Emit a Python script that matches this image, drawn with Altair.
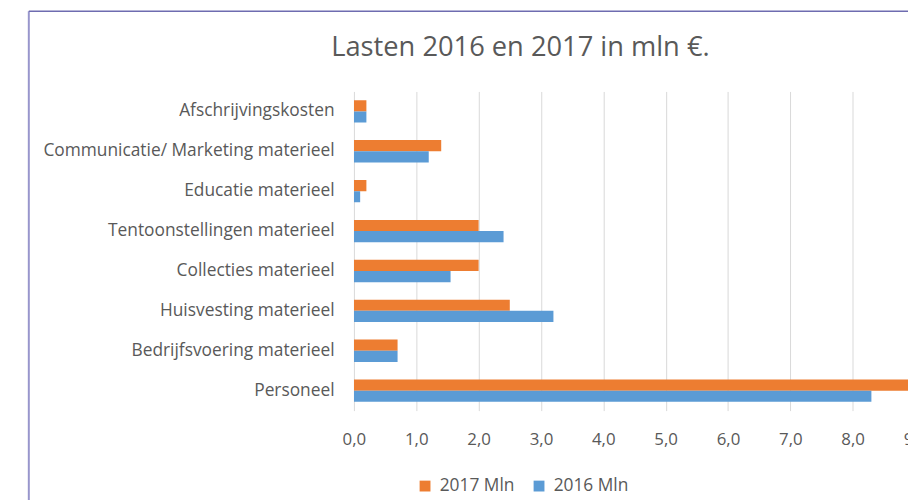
import altair as alt
import pandas as pd

categories = [
    "Afschrijvingskosten",
    "Communicatie/ Marketing materieel",
    "Educatie materieel",
    "Tentoonstellingen materieel",
    "Collecties materieel",
    "Huisvesting materieel",
    "Bedrijfsvoering materieel",
    "Personeel",
]
values_2017 = [0.2, 1.4, 0.2, 2.0, 2.0, 2.5, 0.7, 9.3]
values_2016 = [0.2, 1.2, 0.1, 2.4, 1.55, 3.2, 0.7, 8.3]
series = ["2017 Mln", "2016 Mln"]
colors = ["#ED7D31", "#5B9BD5"]
x_ticks = [0, 1, 2, 3, 4, 5, 6, 7, 8, 9, 10]
title_text = "Lasten 2016 en 2017 in mln €."

rows = []
for c, v17, v16 in zip(categories, values_2017, values_2016):
    rows.append({"cat": c, "series": series[0], "val": v17})
    rows.append({"cat": c, "series": series[1], "val": v16})
df = pd.DataFrame(rows)

FONT = "Open Sans"
W, H = 559, 322
GRAY = "#595959"

bars = alt.Chart(df).mark_bar(clip=True).encode(
    y=alt.Y("cat:N", sort=categories, title=None,
            scale=alt.Scale(paddingInner=0.44, paddingOuter=0.22),
            axis=alt.Axis(ticks=False, domain=False, labelPadding=20,
                          labelFontSize=17.5, labelColor=GRAY, labelFont=FONT,
                          labelLimit=400)),
    x=alt.X("val:Q", title=None,
            scale=alt.Scale(domain=[0, 10], range=[0, 629], nice=False),
            axis=alt.Axis(values=x_ticks, ticks=False, domain=False,
                          labelFlush=False,
                          labelExpr="replace(format(datum.value, '.1f'), '.', ',')",
                          labelFontSize=17, labelColor=GRAY, labelFont=FONT,
                          labelPadding=21, gridColor="#D9D9D9", gridWidth=1)),
    yOffset=alt.YOffset("series:N", sort=series),
    color=alt.Color("series:N", sort=series,
                    scale=alt.Scale(domain=series, range=colors),
                    legend=alt.Legend(orient="none", legendX=63, legendY=389,
                                      direction="horizontal", title=None,
                                      symbolType="square", symbolSize=120,
                                      symbolStrokeWidth=0, labelOffset=6,
                                      labelFontSize=17.5, labelColor=GRAY,
                                      labelFont=FONT, columnPadding=16)),
)

title = alt.Chart(pd.DataFrame({"t": [title_text]})).mark_text(
    font=FONT, fontSize=27.5, color=GRAY, align="center", baseline="middle").encode(
    text="t:N", x=alt.value(168), y=alt.value(-44))

border_left = alt.Chart(pd.DataFrame({"a": [0]})).mark_rule(
    color="#9896CC", strokeWidth=2).encode(
    x=alt.value(-328), y=alt.value(-81), y2=alt.value(420))
border_top = alt.Chart(pd.DataFrame({"a": [0]})).mark_rule(
    color="#6E6CB0", strokeWidth=1.5).encode(
    x=alt.value(-328), x2=alt.value(700), y=alt.value(-81))

chart = alt.layer(bars, title, border_left, border_top).properties(
    width=W, height=H,
    autosize=alt.AutoSizeParams(type="none"),
    padding={"left": 349, "top": 82, "right": 0, "bottom": 88},
).configure_view(stroke=None)

chart.save("out.html", embed_options={"renderer": "svg", "actions": False})
